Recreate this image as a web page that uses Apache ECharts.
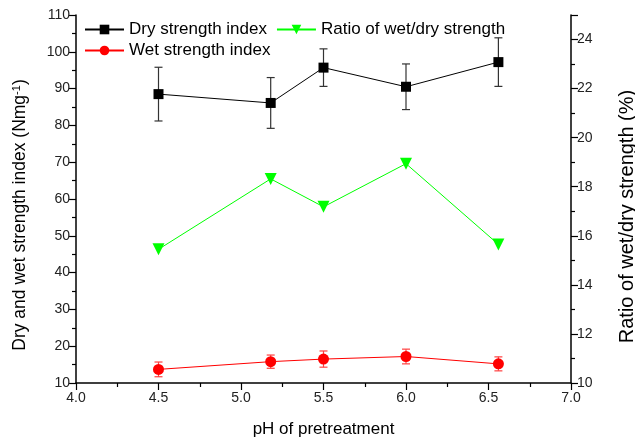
<!DOCTYPE html>
<html><head><meta charset="utf-8">
<script src="https://cdn.jsdelivr.net/npm/echarts@6/dist/echarts.min.js"></script>
<style>html,body{margin:0;padding:0;background:#fff}#c{width:635px;height:442px}</style>
</head><body><div id="c"></div>
<script>
const pH = [4.5, 5.18, 5.5, 6.0, 6.56];
const dryStrength = [88.5, 86.1, 95.7, 90.5, 97.2];
const dryError = [7.3, 6.9, 5.1, 6.2, 6.6];
const wetStrength = [13.7, 15.8, 16.5, 17.2, 15.2];
const wetError = [2.0, 1.8, 2.2, 2.0, 1.9];
const ratio = [15.45, 18.32, 17.18, 18.94, 15.65];
const names = ['Dry strength index', 'Wet strength index', 'Ratio of wet/dry strength'];

const font = 'Liberation Sans, Arial, sans-serif';
const chart = echarts.init(document.getElementById('c'), null, {renderer: 'canvas'});

function errSeries(vals, errs, color, yIdx) {
  return {
    type: 'custom', yAxisIndex: yIdx, z: 1, silent: true,
    data: pH.map((x, i) => [x, vals[i] - errs[i], vals[i] + errs[i]]),
    renderItem: function (params, api) {
      const lo = api.coord([api.value(0), api.value(1)]);
      const hi = api.coord([api.value(0), api.value(2)]);
      const w = 4;
      const st = {stroke: color, lineWidth: 1.2};
      return {type: 'group', children: [
        {type: 'line', shape: {x1: lo[0], y1: lo[1], x2: hi[0], y2: hi[1]}, style: st},
        {type: 'line', shape: {x1: lo[0] - w, y1: lo[1], x2: lo[0] + w, y2: lo[1]}, style: st},
        {type: 'line', shape: {x1: hi[0] - w, y1: hi[1], x2: hi[0] + w, y2: hi[1]}, style: st}
      ]};
    }
  };
}

const axisCommon = {
  axisLine: {show: true, lineStyle: {color: '#000', width: 1.5}},
  axisTick: {show: true, inside: false, length: 7, lineStyle: {color: '#000', width: 1.2}},
  minorTick: {show: true, splitNumber: 2, length: 4, lineStyle: {color: '#000', width: 1.2}},
  splitLine: {show: false},
  axisLabel: {color: '#222', fontSize: 14, fontFamily: font, margin: 6},
  nameTextStyle: {color: '#000', fontSize: 17, fontFamily: font}
};

chart.setOption({
  animation: false,
  backgroundColor: '#fff',
  grid: {left: 76, right: 64, top: 15, bottom: 59, containLabel: false, outerBoundsMode: 'none'},
  legend: [
    {data: [names[0], names[2]], left: 79, top: 16, itemWidth: 39, itemHeight: 12, itemGap: 9,
     textStyle: {fontSize: 17, fontFamily: font, color: '#000'}},
    {data: [names[1]], left: 79, top: 37, itemWidth: 39, itemHeight: 12,
     textStyle: {fontSize: 17, fontFamily: font, color: '#000'}}
  ],
  xAxis: Object.assign({}, axisCommon, {
    type: 'value', min: 4, max: 7, interval: 0.5,
    name: 'pH of pretreatment', nameLocation: 'middle', nameGap: 38,
    axisLabel: Object.assign({}, axisCommon.axisLabel, {formatter: v => v.toFixed(1), margin: 8})
  }),
  yAxis: [
    Object.assign({}, axisCommon, {
      type: 'value', min: 10, max: 110, interval: 10, position: 'left',
      name: 'Dry and wet strength index (Nmg{sup|-1})', nameLocation: 'middle', nameGap: 46, nameRotate: 90,
      nameTextStyle: Object.assign({}, axisCommon.nameTextStyle, {fontSize: 17.5, padding: [0, 32, 0, 0],
        rich: {sup: {fontSize: 11, verticalAlign: 'top', fontFamily: font, padding: [0,0,8,0]}}})
    }),
    Object.assign({}, axisCommon, {
      type: 'value', min: 10, max: 25, interval: 2, position: 'right',
      name: 'Ratio of wet/dry strength (%)', nameLocation: 'middle', nameGap: 46, nameRotate: 90,
      nameTextStyle: Object.assign({}, axisCommon.nameTextStyle, {fontSize: 20, padding: [0, 35, 0, 0]}),
      axisLabel: Object.assign({}, axisCommon.axisLabel, {showMaxLabel: false, formatter: v => (v > 24 ? '' : String(v))})
    })
  ],
  series: [
    errSeries(dryStrength, dryError, '#333', 0),
    errSeries(wetStrength, wetError, '#ff4040', 0),
    {name: names[0], type: 'line', yAxisIndex: 0, z: 3, data: pH.map((x, i) => [x, dryStrength[i]]),
     symbol: 'rect', symbolSize: 10, itemStyle: {color: '#000'}, lineStyle: {color: '#000', width: 1}},
    {name: names[1], type: 'line', yAxisIndex: 0, z: 3, data: pH.map((x, i) => [x, wetStrength[i]]),
     symbol: 'circle', symbolSize: 11, itemStyle: {color: '#ff0000'}, lineStyle: {color: '#ff0000', width: 1}},
    {name: names[2], type: 'line', yAxisIndex: 1, z: 3, data: pH.map((x, i) => [x, ratio[i]]),
     symbol: 'triangle', symbolRotate: 180, symbolSize: 12, itemStyle: {color: '#00ff00'}, lineStyle: {color: '#00ff00', width: 1}}
  ]
});
</script></body></html>
